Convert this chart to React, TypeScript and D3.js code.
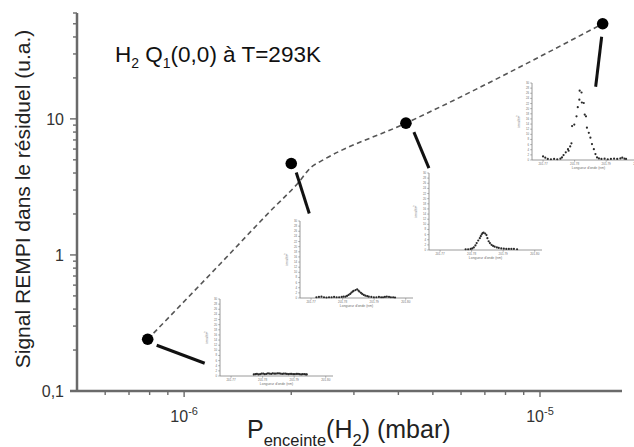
import React from 'react';
import * as d3 from 'd3';

// ---- main data ----
const pressures = [7.9e-7, 2.0e-6, 4.2e-6, 1.5e-5];
const signals = [0.24, 4.7, 9.3, 50];
const fitPressures = [7.9e-7, 1.27e-6, 1.75e-6, 2.09e-6, 2.28e-6, 2.43e-6, 4.2e-6, 1.5e-5];
const fitSignals = [0.24, 0.873, 2.11, 3.38, 4.44, 4.91, 9.3, 50];
const yMajorValues = [0.1, 1, 10];
const yMajorLabels = ['0,1', '1', '10'];
const xMajorValues = [1e-6, 1e-5];
const xMajorExponents = ['-6', '-5'];

// ---- inset data ----
const insetXTickValues = [201.77, 201.78, 201.79, 201.8];
const insetXTickLabels = ['201.77', '201.78', '201.79', '201.80'];
const insetYTickValues = [0, 2, 4, 6, 8, 10, 12, 14, 16, 18, 20, 22, 24, 26, 28, 30];

const spec1Wl = [201.7772, 201.7777, 201.7782, 201.7787, 201.7792, 201.7797, 201.7802, 201.7807, 201.7812, 201.7817, 201.7822, 201.7827, 201.7832, 201.7837, 201.7842, 201.7847, 201.7852, 201.7857, 201.7862, 201.7867, 201.7872, 201.7877, 201.7882, 201.7887, 201.7892, 201.7897, 201.7902, 201.7907, 201.7912, 201.7917, 201.7922, 201.7927, 201.7932, 201.7937, 201.794];
const spec1I = [0.6, 0.7, 0.8, 0.6, 0.7, 0.9, 0.9, 0.7, 0.8, 1.0, 0.9, 0.8, 1.0, 0.9, 0.9, 1.0, 1.0, 0.9, 0.8, 0.9, 0.9, 0.8, 0.7, 0.8, 0.8, 0.7, 0.7, 0.8, 0.8, 0.7, 0.6, 0.7, 0.7, 0.6, 0.6];

const spec2Wl = [201.7717, 201.7725, 201.7733, 201.7741, 201.7749, 201.7757, 201.7765, 201.7773, 201.7781, 201.7789, 201.7797, 201.7803, 201.7809, 201.7814, 201.7819, 201.7824, 201.7828, 201.7832, 201.7835, 201.7841, 201.7846, 201.7850, 201.7853, 201.7858, 201.7862, 201.7867, 201.7872, 201.7878, 201.7883, 201.7891, 201.7899, 201.7907, 201.7915, 201.7922, 201.7928, 201.7934, 201.794, 201.7947, 201.7953, 201.796, 201.7966];
const spec2I = [0.3, 0.4, 0.5, 0.3, 0.2, 0.3, 0.3, 0.4, 0.3, 0.3, 0.4, 0.5, 0.5, 0.8, 1.2, 1.6, 2.1, 2.5, 2.8, 3.1, 3.4, 2.9, 2.5, 2.0, 1.6, 1.2, 0.9, 0.7, 0.5, 0.4, 0.3, 0.3, 0.4, 0.3, 0.3, 0.4, 0.5, 0.4, 0.3, 0.3, 0.2];

const spec3Wl = [201.7781, 201.7789, 201.7797, 201.7802, 201.7807, 201.7812, 201.7816, 201.7821, 201.7826, 201.7829, 201.7832, 201.7835, 201.7838, 201.7843, 201.7847, 201.785, 201.7854, 201.7858, 201.7863, 201.7868, 201.7873, 201.788, 201.7886, 201.7894, 201.7902, 201.791, 201.7918, 201.7926, 201.7934, 201.7944];
const spec3I = [0.3, 0.3, 0.4, 0.6, 1.0, 1.8, 2.7, 3.7, 4.6, 5.4, 6.1, 6.6, 6.8, 6.4, 5.8, 4.6, 3.4, 2.7, 2.0, 1.6, 1.3, 1.0, 0.8, 0.6, 0.5, 0.4, 0.4, 0.4, 0.4, 0.3];

const spec4Wl = [201.77, 201.7707, 201.7715, 201.7725, 201.7735, 201.7745, 201.7755, 201.776, 201.7765, 201.7772, 201.7779, 201.7781, 201.7786, 201.779, 201.7792, 201.7799, 201.7806, 201.781, 201.7815, 201.7816, 201.7822, 201.7823, 201.7829, 201.7832, 201.7836, 201.7839, 201.7845, 201.785, 201.7855, 201.7861, 201.7866, 201.7871, 201.7877, 201.7885, 201.7895, 201.7905, 201.7915, 201.7925, 201.7935, 201.7945, 201.7951, 201.7958, 201.7963];
const spec4I = [1.4, 0.9, 0.4, 0.3, 0.4, 0.3, 0.5, 1.0, 1.9, 3.0, 4.2, 3.6, 5.3, 6.5, 13.2, 13.8, 17.0, 20.6, 23.5, 27.0, 26.3, 22.4, 22.2, 17.7, 17.0, 12.6, 10.6, 8.7, 6.2, 4.2, 2.3, 1.0, 0.6, 0.4, 0.5, 0.3, 0.4, 0.5, 0.4, 0.6, 0.9, 0.5, 0.4];

const spectraWl = [spec1Wl, spec2Wl, spec3Wl, spec4Wl];
const spectraI = [spec1I, spec2I, spec3I, spec4I];

// ---- layout ----
const W = 634;
const H = 447;
const FONT = '"Liberation Sans", Arial, Helvetica, sans-serif';
const insetBoxes = [
  { x: 220, y: 299 },
  { x: 300, y: 221 },
  { x: 429, y: 173 },
  { x: 532, y: 83 },
];
const INSET_W = 113;
const INSET_H = 77;
// connector offsets relative to each point's pixel position
const connectors = [
  { dx1: 9, dy1: 6, dx2: 57, dy2: 24 },
  { dx1: 5, dy1: 9, dx2: 18, dy2: 50 },
  { dx1: 8, dy1: 9, dx2: 23, dy2: 45 },
  { dx1: -1, dy1: 13, dx2: -7, dy2: 63 },
];

const x = d3.scaleLog().domain([5e-7, 1.7e-5]).range([77, 622]);
const y = d3.scaleLog().domain([0.1, 60]).range([391, 13]);

function isPow10(v: number) {
  const l = Math.log10(v);
  return Math.abs(l - Math.round(l)) < 1e-6;
}

function Inset({ idx }: { idx: number }) {
  const b = insetBoxes[idx];
  const ix = d3.scaleLinear().domain([201.7665, 201.8023]).range([b.x, b.x + INSET_W]);
  const iy = d3.scaleLinear().domain([0, 30]).range([b.y + INSET_H, b.y]);
  const wl = spectraWl[idx];
  const inten = spectraI[idx];
  const bottom = b.y + INSET_H;
  const axisCol = '#808080';
  const txtCol = '#707070';
  return (
    <g>
      <line x1={b.x} y1={b.y} x2={b.x} y2={bottom} stroke={axisCol} strokeWidth={0.8} />
      <line x1={b.x} y1={bottom} x2={b.x + INSET_W} y2={bottom} stroke={axisCol} strokeWidth={0.8} />
      {insetYTickValues.map((v) => (
        <g key={'y' + v}>
          <line x1={b.x - 1.8} x2={b.x} y1={iy(v)} y2={iy(v)} stroke={axisCol} strokeWidth={0.6} />
          <text x={b.x - 3} y={iy(v) + 1} fontSize={2.8} textAnchor="end" fill={txtCol} fontFamily={FONT}>{v}</text>
        </g>
      ))}
      {insetXTickValues.map((v, i) => (
        <g key={'x' + v}>
          <line x1={ix(v)} x2={ix(v)} y1={bottom} y2={bottom + 1.8} stroke={axisCol} strokeWidth={0.6} />
          <text x={ix(v)} y={bottom + 5} fontSize={3} textAnchor="middle" fill={txtCol} fontFamily={FONT}>{insetXTickLabels[i]}</text>
        </g>
      ))}
      <text x={b.x + INSET_W / 2} y={bottom + 9} fontSize={3.4} textAnchor="middle" fill={txtCol} fontFamily={FONT}>Longueur d'onde (nm)</text>
      <text transform={`translate(${b.x - 12},${b.y + INSET_H / 2}) rotate(-90)`} fontSize={3.6} textAnchor="middle" fill={txtCol} fontFamily={FONT}>
        ions/tir<tspan dy={-1.5} fontSize={2.6}>2</tspan>
      </text>
      {wl.map((w, i) => (
        <circle key={i} cx={ix(w)} cy={iy(inten[i])} r={1.1} fill="#2a2a2a" />
      ))}
    </g>
  );
}

export default function App() {
  const axisCol = '#6a6a6a';
  const fitLine = d3
    .line<number>()
    .x((d, i) => x(fitPressures[i]))
    .y((d) => y(d))
    .curve(d3.curveMonotoneX);
  const xTicks = x.ticks();
  const yTicks = y.ticks();
  return (
    <div style={{ position: 'fixed', left: 0, top: 0 }}>
      <svg width={W} height={H} style={{ display: 'block', background: '#fff' }}>
        <rect x={0} y={0} width={W} height={H} fill="#fff" />
        {/* insets */}
        {insetBoxes.map((b, i) => (
          <Inset key={i} idx={i} />
        ))}
        {/* axes */}
        <line x1={70} y1={391} x2={622} y2={391} stroke={axisCol} strokeWidth={2.5} />
        <line x1={77} y1={13} x2={77} y2={392} stroke={axisCol} strokeWidth={2.5} />
        {yTicks.map((v, i) => {
          const major = isPow10(v);
          return <line key={'yt' + i} x1={77 - (major ? 7 : 4)} x2={77} y1={y(v)} y2={y(v)} stroke={axisCol} strokeWidth={1.4} />;
        })}
        {xTicks.map((v, i) => {
          if (v <= 5e-7 * 1.0001) return null;
          const major = isPow10(v);
          return <line key={'xt' + i} x1={x(v)} x2={x(v)} y1={391} y2={391 + (major ? 6 : 4)} stroke={axisCol} strokeWidth={1.4} />;
        })}
        {yMajorValues.map((v, i) => (
          <text key={'yl' + i} x={64} y={y(v) + 6} fontSize={16} textAnchor="end" fill="#333" fontFamily={FONT}>{yMajorLabels[i]}</text>
        ))}
        {xMajorValues.map((v, i) => (
          <text key={'xl' + i} x={x(v)} y={422} fontSize={16} textAnchor="middle" fill="#333" fontFamily={FONT}>
            10<tspan dy={-7} fontSize={11}>{xMajorExponents[i]}</tspan>
          </text>
        ))}
        {/* axis titles */}
        <text transform="translate(30,199) rotate(-90)" fontSize={21} textAnchor="middle" fill="#222" fontFamily={FONT}>
          Signal REMPI dans le résiduel (u.a.)
        </text>
        <text x={247} y={438} fontSize={25} fill="#222" fontFamily={FONT}>
          P<tspan dy={8} fontSize={16.5}>enceinte</tspan>
          <tspan dy={-8}>(H</tspan>
          <tspan dy={8} fontSize={16.5}>2</tspan>
          <tspan dy={-8}>) (mbar)</tspan>
        </text>
        {/* title */}
        <text x={115} y={62} fontSize={22.5} fill="#111" fontFamily={FONT}>
          H<tspan dy={6} fontSize={14}>2</tspan>
          <tspan dy={-6}> Q</tspan>
          <tspan dy={6} fontSize={14}>1</tspan>
          <tspan dy={-6}>(0,0) à T=293K</tspan>
        </text>
        {/* fitted dashed curve */}
        <path d={fitLine(fitSignals) || ''} fill="none" stroke="#555" strokeWidth={1.6} strokeDasharray="5,3.5" />
        {/* connectors */}
        {pressures.map((p, i) => {
          const px = x(p);
          const py = y(signals[i]);
          const c = connectors[i];
          return <line key={'c' + i} x1={px + c.dx1} y1={py + c.dy1} x2={px + c.dx2} y2={py + c.dy2} stroke="#111" strokeWidth={3} />;
        })}
        {/* points */}
        {pressures.map((p, i) => (
          <circle key={'p' + i} cx={x(p)} cy={y(signals[i])} r={5.8} fill="#000" />
        ))}
      </svg>
    </div>
  );
}
